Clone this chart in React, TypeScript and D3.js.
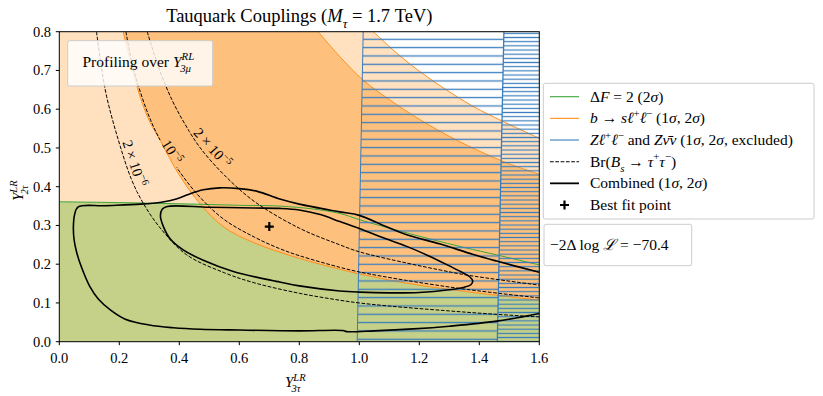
import * as d3 from 'd3';

type P = [number, number];

// b -> s l l (1 sigma band edges and 2 sigma edge)
const bsllInner: P[] = [[0.213, 0.8], [0.24, 0.715], [0.269, 0.633], [0.3, 0.57], [0.336, 0.52], [0.4, 0.43], [0.47, 0.355], [0.55, 0.295], [0.65, 0.255], [0.8, 0.215], [0.935, 0.187], [1.0, 0.175], [1.158, 0.151], [1.358, 0.129], [1.6, 0.107]];
const bsllMiddle: P[] = [[0.863, 0.8], [0.936, 0.735], [1.013, 0.675], [1.1, 0.625], [1.2, 0.574], [1.325, 0.52], [1.48, 0.465], [1.6, 0.432]];
const bsllOuter: P[] = [[1.047, 0.8], [1.12, 0.748], [1.2, 0.698], [1.29, 0.65], [1.38, 0.607], [1.48, 0.568], [1.6, 0.525]];

// Delta F = 2 (2 sigma)
const deltaF2: P[] = [[0, 0.361], [0.2, 0.359], [0.4, 0.356], [0.6, 0.352], [0.735, 0.35], [0.85, 0.342], [0.935, 0.331], [1.0, 0.315], [1.1, 0.293], [1.236, 0.265], [1.35, 0.243], [1.458, 0.224], [1.6, 0.198]];

// Z ll / Z nu nu excluded regions (edges)
const zLeftEdge: P[] = [[1.013, 0.8], [0.993, 0]];
const zMidEdge: P[] = [[1.482, 0.8], [1.46, 0]];

// Br(Bs -> tau tau) contours
const br2e6: P[] = [[0.124, 0.8], [0.14, 0.71], [0.158, 0.632], [0.197, 0.52], [0.24, 0.42], [0.28, 0.357], [0.34, 0.29], [0.425, 0.224], [0.55, 0.178], [0.65, 0.152], [0.8, 0.125], [0.935, 0.107], [1.0, 0.1], [1.1, 0.092], [1.29, 0.08], [1.45, 0.071], [1.6, 0.064]];
const br1e5: P[] = [[0.222, 0.8], [0.245, 0.71], [0.272, 0.64], [0.3, 0.58], [0.335, 0.522], [0.4, 0.44], [0.47, 0.372], [0.55, 0.315], [0.65, 0.27], [0.735, 0.24], [0.8, 0.222], [0.935, 0.192], [1.0, 0.18], [1.158, 0.158], [1.358, 0.135], [1.6, 0.113]];
const br2e5: P[] = [[0.293, 0.8], [0.33, 0.71], [0.375, 0.625], [0.42, 0.56], [0.47, 0.5], [0.55, 0.43], [0.65, 0.362], [0.8, 0.293], [0.935, 0.25], [1.0, 0.232], [1.158, 0.203], [1.27, 0.185], [1.358, 0.172], [1.6, 0.146]];
const brMant = ['2 × 10', '10', '2 × 10'];
const brExp = ['−6', '−5', '−5'];
const brLabelAt: P[] = [[0.25, 0.46], [0.375, 0.49], [0.51, 0.5]];

// combined fit contours
const comb2s: P[] = [[1.6, 0.073], [1.458, 0.053], [1.3, 0.04], [1.18, 0.033], [1.05, 0.028], [0.958, 0.026], [0.945, 0.029], [0.8, 0.028], [0.6, 0.03], [0.47, 0.032], [0.38, 0.036], [0.3, 0.043], [0.22, 0.058], [0.17, 0.082], [0.13, 0.11], [0.102, 0.142], [0.075, 0.19], [0.058, 0.23], [0.049, 0.265], [0.047, 0.297], [0.051, 0.328], [0.063, 0.348], [0.15, 0.351], [0.27, 0.355], [0.34, 0.36], [0.39, 0.368], [0.43, 0.38], [0.48, 0.392], [0.535, 0.397], [0.6, 0.395], [0.66, 0.388], [0.735, 0.368], [0.8, 0.355], [0.935, 0.335], [1.0, 0.326], [1.08, 0.3], [1.158, 0.276], [1.27, 0.252], [1.38, 0.225], [1.458, 0.208], [1.6, 0.179]];
const comb1s: P[] = [[0.36, 0.349], [0.5, 0.347], [0.65, 0.345], [0.735, 0.344], [0.8, 0.34], [0.87, 0.328], [0.935, 0.31], [1.0, 0.292], [1.08, 0.268], [1.158, 0.246], [1.23, 0.222], [1.302, 0.195], [1.345, 0.178], [1.369, 0.167], [1.378, 0.157], [1.372, 0.147], [1.347, 0.14], [1.3, 0.134], [1.2, 0.127], [1.1, 0.126], [1.0, 0.128], [0.935, 0.131], [0.8, 0.144], [0.735, 0.154], [0.58, 0.181], [0.48, 0.21], [0.413, 0.237], [0.37, 0.265], [0.347, 0.297], [0.337, 0.325], [0.343, 0.342]];
const bestFit: P = [0.7, 0.297];
const logL = '−70.4';

const W = 823, H = 396;
const FONT = 'Liberation Serif, Times New Roman, DejaVu Serif, serif';
const PEACH = '#ffe0bf';
const ORANGE_FILL = '#fec17d';
const OLIVE = '#c5d088';
const ORANGE = '#ff8f1a';
const GREEN = '#3aa63a';
const BLUE = '#3a7dbd';

const x = d3.scaleLinear().domain([0, 1.6]).range([59.3, 539.3]);
const y = d3.scaleLinear().domain([0, 0.8]).range([341.7, 31.7]);

const smooth = d3.line<P>().x(d => x(d[0])).y(d => y(d[1])).curve(d3.curveCatmullRom);
const straight = d3.line<P>().x(d => x(d[0])).y(d => y(d[1]));
const closedSmooth = d3.line<P>().x(d => x(d[0])).y(d => y(d[1])).curve(d3.curveCatmullRomClosed);

// simple math text: [text, kind, dx] kind: r roman, i italic, sup/isup, sub/isub
type Seg = [string, string, number?];
function MathText({ segs, fs, ...rest }: { segs: Seg[]; fs: number; [k: string]: any }) {
  let cur = 0;
  return (
    <text fontFamily={FONT} fontSize={fs} {...rest}>
      {segs.map((s, i) => {
        const [t, k, dx] = s;
        const target = k === 'sup' || k === 'isup' ? -0.42 * fs : k === 'sub' || k === 'isub' ? 0.32 * fs : 0;
        const dy = target - cur;
        cur = target;
        const small = k !== 'r' && k !== 'i';
        const italic = k === 'i' || k === 'isup' || k === 'isub';
        return (
          <tspan key={i} dy={dy || undefined} dx={dx} fontSize={small ? fs * 0.7 : undefined} fontStyle={italic ? 'italic' : undefined}>
            {t}
          </tspan>
        );
      })}
    </text>
  );
}

function labelAngle(pts: P[], at: P) {
  let best = 0, bd = Infinity;
  for (let i = 0; i < pts.length - 1; i++) {
    const mx = (x(pts[i][0]) + x(pts[i + 1][0])) / 2, my = (y(pts[i][1]) + y(pts[i + 1][1])) / 2;
    const d = (mx - x(at[0])) ** 2 + (my - y(at[1])) ** 2;
    if (d < bd) { bd = d; best = i; }
  }
  const a = Math.atan2(y(pts[best + 1][1]) - y(pts[best][1]), x(pts[best + 1][0]) - x(pts[best][0])) * 180 / Math.PI;
  return a > 90 ? a - 180 : a < -90 ? a + 180 : a;
}

const plus = (cx: number, cy: number, r: number) => `M${cx - r},${cy}H${cx + r}M${cx},${cy - r}V${cy + r}`;

export default function App() {
  const brCurves = [br2e6, br1e5, br2e5];
  const labels = brCurves.map((c, i) => ({ px: x(brLabelAt[i][0]), py: y(brLabelAt[i][1]), ang: labelAngle(c, brLabelAt[i]), w: i === 1 ? 32 : 56 }));

  const peachPath = smooth(bsllOuter) + `L${x(1.6)},${y(0)}L${x(0)},${y(0)}L${x(0)},${y(0.8)}Z`;
  const greenPath = smooth(deltaF2) + `L${x(1.6)},${y(0)}L${x(0)},${y(0)}Z`;
  const bandPath = smooth(bsllInner) + (smooth([...bsllMiddle].reverse()) as string).replace(/^M/, 'L') + 'Z';
  const hatch1: P[] = [zLeftEdge[0], zMidEdge[0], zMidEdge[1], zLeftEdge[1]];
  const hatch2: P[] = [zMidEdge[0], [1.6, 0.8], [1.6, 0], zMidEdge[1]];

  const legendRows: { segs: Seg[]; kind: string }[] = [
    { kind: 'green', segs: [['Δ', 'r'], ['F', 'i'], [' = 2 (2', 'r'], ['σ', 'i'], [')', 'r']] },
    { kind: 'orange', segs: [['b', 'i'], [' → ', 'r'], ['sℓ', 'i'], ['+', 'sup'], ['ℓ', 'i'], ['−', 'sup'], [' (1', 'r'], ['σ', 'i'], [', 2', 'r'], ['σ', 'i'], [')', 'r']] },
    { kind: 'blue', segs: [['Zℓ', 'i'], ['+', 'sup'], ['ℓ', 'i'], ['−', 'sup'], [' and ', 'r'], ['Z', 'i'], ['ν̄ν', 'i'], [' (1', 'r'], ['σ', 'i'], [', 2', 'r'], ['σ', 'i'], [', excluded)', 'r']] },
    { kind: 'dash', segs: [['Br(', 'r'], ['B', 'i'], ['s', 'isub'], [' → ', 'r'], ['τ', 'i'], ['+', 'sup'], ['τ', 'i'], ['−', 'sup'], [')', 'r']] },
    { kind: 'black', segs: [['Combined (1', 'r'], ['σ', 'i'], [', 2', 'r'], ['σ', 'i'], [')', 'r']] },
    { kind: 'plus', segs: [['Best fit point', 'r']] },
  ];

  return (
    <svg width={W} height={H} style={{ position: 'absolute', left: 0, top: 0, background: '#fff' }}>
      <defs>
        <clipPath id="plot">
          <rect x={x(0)} y={y(0.8)} width={x(1.6) - x(0)} height={y(0) - y(0.8)} />
        </clipPath>
        <pattern id="hatch1" patternUnits="userSpaceOnUse" width={20} height={8.333} y={1.8}>
          <line x1={0} x2={20} y1={4.167} y2={4.167} stroke={BLUE} strokeWidth={1.3} />
        </pattern>
        <pattern id="hatch2" patternUnits="userSpaceOnUse" width={20} height={4.1667} y={2.1}>
          <line x1={0} x2={20} y1={2.083} y2={2.083} stroke={BLUE} strokeWidth={1.2} />
        </pattern>
        <mask id="lblmask" maskUnits="userSpaceOnUse" x={0} y={0} width={W} height={H}>
          <rect width={W} height={H} fill="#fff" />
          {labels.map((l, i) => (
            <rect key={i} x={-l.w / 2} y={-6} width={l.w} height={12} fill="#000" transform={`translate(${l.px},${l.py}) rotate(${l.ang})`} />
          ))}
        </mask>
      </defs>

      <g clipPath="url(#plot)">
        <path d={peachPath} fill={PEACH} />
        <path d={greenPath} fill={OLIVE} />
        <path d={bandPath} fill={ORANGE_FILL} />
        {[bsllInner, bsllMiddle, bsllOuter].map((c, i) => (
          <path key={i} d={smooth(c) as string} fill="none" stroke={ORANGE} strokeWidth={1} />
        ))}
        <path d={smooth(deltaF2) as string} fill="none" stroke={GREEN} strokeWidth={1} />
        <path d={straight(hatch1) + 'Z'} fill="url(#hatch1)" />
        <path d={straight(hatch2) + 'Z'} fill="url(#hatch2)" />
        <path d={straight(zLeftEdge) as string} stroke={BLUE} strokeWidth={1} fill="none" />
        <path d={straight(zMidEdge) as string} stroke={BLUE} strokeWidth={1.3} fill="none" />
        <g mask="url(#lblmask)">
          {brCurves.map((c, i) => (
            <path key={i} d={smooth(c) as string} fill="none" stroke="#000" strokeWidth={1} strokeDasharray="3.7,1.6" />
          ))}
        </g>
        <path d={smooth(comb2s) as string} fill="none" stroke="#000" strokeWidth={1.6} />
        <path d={closedSmooth(comb1s) as string} fill="none" stroke="#000" strokeWidth={1.6} />
        <path d={plus(x(bestFit[0]), y(bestFit[1]), 4.5)} stroke="#000" strokeWidth={2.2} />
      </g>

      {labels.map((l, i) => (
        <g key={i} transform={`translate(${l.px},${l.py}) rotate(${l.ang})`}>
          <MathText fs={14.5} textAnchor="middle" y={4.8} segs={[[brMant[i], 'r'], [brExp[i], 'sup']]} />
        </g>
      ))}

      {/* profiling box */}
      <rect x={67.7} y={40.7} width={145} height={45.3} rx={2} fill="#fff" fillOpacity={0.82} stroke="#cccccc" strokeWidth={1} />
      <MathText fs={15.5} x={82.5} y={67} segs={[['Profiling over ', 'r'], ['Y', 'i'], ['RL', 'isup'], ['3μ', 'isub', -14]]} />

      {/* axes frame */}
      <rect x={x(0)} y={y(0.8)} width={x(1.6) - x(0)} height={y(0) - y(0.8)} fill="none" stroke="#000" strokeWidth={1} />
      {x.ticks(8).map(t => (
        <g key={'x' + t}>
          <line x1={x(t)} x2={x(t)} y1={y(0)} y2={y(0) + 3.5} stroke="#000" />
          <text x={x(t)} y={362.5} textAnchor="middle" fontFamily={FONT} fontSize={14.5}>{d3.format('.1f')(t)}</text>
        </g>
      ))}
      {y.ticks(8).map(t => (
        <g key={'y' + t}>
          <line x1={x(0) - 3.5} x2={x(0)} y1={y(t)} y2={y(t)} stroke="#000" />
          <text x={51} y={y(t) + 4.8} textAnchor="end" fontFamily={FONT} fontSize={14.5}>{d3.format('.1f')(t)}</text>
        </g>
      ))}

      {/* axis labels */}
      <MathText fs={15} x={285} y={387} segs={[['Y', 'i'], ['LR', 'isup'], ['3τ', 'isub', -14]]} />
      <g transform="translate(23,201) rotate(-90)">
        <MathText fs={15} x={0} y={0} segs={[['Y', 'i'], ['LR', 'isup'], ['2τ', 'isub', -14]]} />
      </g>

      {/* title */}
      <MathText fs={18.5} x={(x(0) + x(1.6)) / 2} y={22} textAnchor="middle" segs={[['Tauquark Couplings (', 'r'], ['M', 'i'], ['τ', 'isub'], [' = 1.7 TeV)', 'r']]} />

      {/* legend */}
      <rect x={543.3} y={83.3} width={270.7} height={135.7} rx={2} fill="#fff" stroke="#cccccc" strokeWidth={1} />
      {legendRows.map((r, i) => {
        const cy = 96.7 + i * 21.66;
        let handle;
        if (r.kind === 'plus') handle = <path d={plus(564.5, cy, 4.5)} stroke="#000" strokeWidth={2.2} />;
        else {
          const col = r.kind === 'green' ? GREEN : r.kind === 'orange' ? ORANGE : r.kind === 'blue' ? BLUE : '#000';
          handle = <line x1={550} x2={579} y1={cy} y2={cy} stroke={col} strokeWidth={r.kind === 'black' ? 1.8 : 1.1} strokeDasharray={r.kind === 'dash' ? '3.7,1.6' : undefined} />;
        }
        return (
          <g key={i}>
            {handle}
            <MathText fs={15.5} x={590} y={cy + 5} segs={r.segs} />
          </g>
        );
      })}

      <rect x={544} y={224.3} width={147.7} height={41.4} rx={2} fill="#fff" stroke="#cccccc" strokeWidth={1} />
      <MathText fs={15.5} x={550} y={249.5} segs={[['−2Δ log ', 'r'], ['ℒ', 'i'], [' = ' + logL, 'r']]} />
    </svg>
  );
}
